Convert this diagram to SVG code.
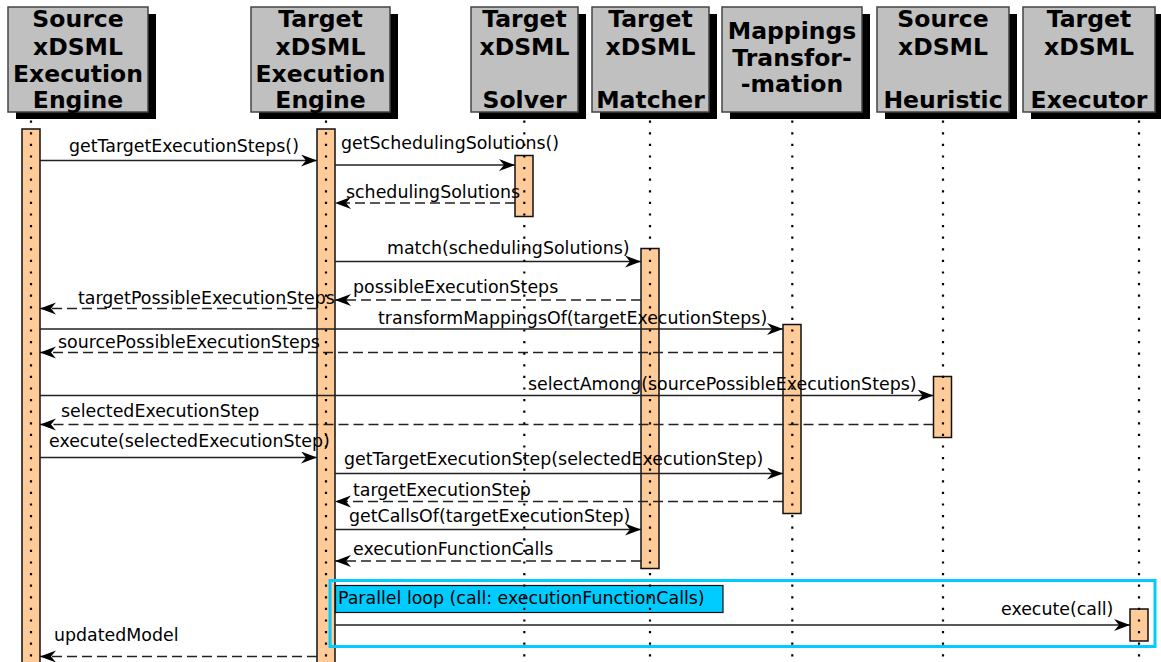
<svg xmlns="http://www.w3.org/2000/svg" width="1161" height="662" viewBox="0 0 1161 662">
<defs>
<style>
.hdr{fill:#c0c0c0;stroke:#444;stroke-width:1.5}
.shd{fill:#000}
.ht{font-family:"DejaVu Sans","Liberation Sans",sans-serif;font-weight:bold;font-size:23.5px;text-anchor:middle;fill:#000}
.act{fill:#ffcc99;stroke:#111;stroke-width:1.5}
.msg{stroke:#222;stroke-width:1.6;fill:none}
.ret{stroke:#222;stroke-width:1.6;fill:none;stroke-dasharray:10,5}
.lbl{font-family:"DejaVu Sans","Liberation Sans",sans-serif;font-size:17.4px;fill:#000}
.life{stroke:#000;stroke-width:2.2;stroke-dasharray:2.2,9.4}
</style>
<marker id="ah" markerUnits="userSpaceOnUse" markerWidth="17" markerHeight="13" refX="16" refY="6" orient="auto">
<path d="M0,0 L16,6 L0,12 L5,6 Z" fill="#000"/>
</marker>
</defs>
<rect width="1161" height="662" fill="#fff"/>

<g id="srcEngine">
<rect class="shd" x="16" y="14" width="140" height="105"/>
<rect class="hdr" x="8" y="7" width="140" height="105"/>
<text class="ht" x="78" y="27">Source</text>
<text class="ht" x="78" y="54.5">xDSML</text>
<text class="ht" x="78" y="81.5">Execution</text>
<text class="ht" x="78" y="108">Engine</text>
</g>
<g id="tgtEngine">
<rect class="shd" x="259" y="14" width="139" height="105"/>
<rect class="hdr" x="251" y="7" width="139" height="105"/>
<text class="ht" x="320.5" y="27">Target</text>
<text class="ht" x="320.5" y="54.5">xDSML</text>
<text class="ht" x="320.5" y="81.5">Execution</text>
<text class="ht" x="320.5" y="108">Engine</text>
</g>
<g id="solver">
<rect class="shd" x="479" y="14" width="107" height="105"/>
<rect class="hdr" x="471" y="7" width="107" height="105"/>
<text class="ht" x="524.5" y="27">Target</text>
<text class="ht" x="524.5" y="54.5">xDSML</text>
<text class="ht" x="524.5" y="108">Solver</text>
</g>
<g id="matcher">
<rect class="shd" x="600" y="14" width="117" height="105"/>
<rect class="hdr" x="592" y="7" width="117" height="105"/>
<text class="ht" x="650.5" y="27">Target</text>
<text class="ht" x="650.5" y="54.5">xDSML</text>
<text class="ht" x="650.5" y="108">Matcher</text>
</g>
<g id="mappings">
<rect class="shd" x="730" y="14" width="140" height="105"/>
<rect class="hdr" x="722" y="7" width="140" height="105"/>
<text class="ht" x="792" y="39">Mappings</text>
<text class="ht" x="792" y="65.5">Transfor-</text>
<text class="ht" x="792" y="92">-mation</text>
</g>
<g id="heuristic">
<rect class="shd" x="885" y="14" width="132" height="105"/>
<rect class="hdr" x="877" y="7" width="132" height="105"/>
<text class="ht" x="943" y="27">Source</text>
<text class="ht" x="943" y="54.5">xDSML</text>
<text class="ht" x="943" y="108">Heuristic</text>
</g>
<g id="executor">
<rect class="shd" x="1031" y="14" width="132" height="105"/>
<rect class="hdr" x="1023" y="7" width="132" height="105"/>
<text class="ht" x="1089" y="27">Target</text>
<text class="ht" x="1089" y="54.5">xDSML</text>
<text class="ht" x="1089" y="108">Executor</text>
</g>

<g id="activations">
<rect class="act" x="22" y="129" width="18" height="545"/>
<rect class="act" x="317" y="129" width="18" height="545"/>
<rect class="act" x="515" y="155.5" width="18" height="61"/>
<rect class="act" x="641" y="248.5" width="18" height="320"/>
<rect class="act" x="783" y="324.5" width="18" height="189"/>
<rect class="act" x="933.5" y="376.5" width="18" height="61"/>
<rect class="act" x="1130" y="609" width="18" height="32"/>
</g>

<g id="connectors">
<line class="msg" x1="40" y1="160.5" x2="317" y2="160.5" marker-end="url(#ah)"/>
<text class="lbl" x="69" y="152">getTargetExecutionSteps()</text>
<line class="msg" x1="335" y1="165" x2="515" y2="165" marker-end="url(#ah)"/>
<text class="lbl" x="341" y="149">getSchedulingSolutions()</text>
<line class="ret" x1="515" y1="203" x2="335" y2="203" marker-end="url(#ah)"/>
<text class="lbl" x="346" y="198">schedulingSolutions</text>
<line class="msg" x1="335" y1="261.5" x2="641" y2="261.5" marker-end="url(#ah)"/>
<text class="lbl" x="387" y="254">match(schedulingSolutions)</text>
<line class="ret" x1="641" y1="300" x2="335" y2="300" marker-end="url(#ah)"/>
<text class="lbl" x="353" y="293">possibleExecutionSteps</text>
<line class="ret" x1="317" y1="308.5" x2="40" y2="308.5" marker-end="url(#ah)"/>
<text class="lbl" x="78" y="304">targetPossibleExecutionSteps</text>
<line class="msg" x1="40" y1="329" x2="783" y2="329" marker-end="url(#ah)"/>
<text class="lbl" x="378" y="324">transformMappingsOf(targetExecutionSteps)</text>
<line class="ret" x1="783" y1="352.5" x2="40" y2="352.5" marker-end="url(#ah)"/>
<text class="lbl" x="58" y="348">sourcePossibleExecutionSteps</text>
<line class="msg" x1="40" y1="395.5" x2="933.5" y2="395.5" marker-end="url(#ah)"/>
<text class="lbl" x="528" y="390">selectAmong(sourcePossibleExecutionSteps)</text>
<line class="ret" x1="933.5" y1="424.5" x2="40" y2="424.5" marker-end="url(#ah)"/>
<text class="lbl" x="61" y="417">selectedExecutionStep</text>
<line class="msg" x1="40" y1="457.5" x2="317" y2="457.5" marker-end="url(#ah)"/>
<text class="lbl" x="49" y="447">execute(selectedExecutionStep)</text>
<line class="msg" x1="335" y1="473.5" x2="783" y2="473.5" marker-end="url(#ah)"/>
<text class="lbl" x="344" y="465">getTargetExecutionStep(selectedExecutionStep)</text>
<line class="ret" x1="783" y1="501.5" x2="335" y2="501.5" marker-end="url(#ah)"/>
<text class="lbl" x="353" y="496">targetExecutionStep</text>
<line class="msg" x1="335" y1="529.5" x2="641" y2="529.5" marker-end="url(#ah)"/>
<text class="lbl" x="349" y="522">getCallsOf(targetExecutionStep)</text>
<line class="ret" x1="641" y1="561" x2="335" y2="561" marker-end="url(#ah)"/>
<text class="lbl" x="353" y="555">executionFunctionCalls</text>
<line class="msg" x1="335" y1="625" x2="1130" y2="625" marker-end="url(#ah)"/>
<text class="lbl" x="1001" y="615">execute(call)</text>
<line class="ret" x1="317" y1="656.5" x2="40" y2="656.5" marker-end="url(#ah)"/>
<text class="lbl" x="54" y="641">updatedModel</text>
</g>

<g id="loop">
<rect x="330" y="580.5" width="825" height="66" fill="none" stroke="#00ccff" stroke-width="3"/>
<rect x="335.5" y="585.5" width="387.5" height="27" fill="#00ccff" stroke="#111" stroke-width="1.2"/>
<text class="lbl" x="338" y="604">Parallel loop (call: executionFunctionCalls)</text>
</g>

<g id="lifelines">
<line class="life" x1="31" y1="120.6" x2="31" y2="662"/>
<line class="life" x1="326" y1="120.6" x2="326" y2="662"/>
<line class="life" x1="524.3" y1="120.6" x2="524.3" y2="662"/>
<line class="life" x1="650" y1="120.6" x2="650" y2="662"/>
<line class="life" x1="792.3" y1="120.6" x2="792.3" y2="662"/>
<line class="life" x1="943" y1="120.6" x2="943" y2="662"/>
<line class="life" x1="1139" y1="120.6" x2="1139" y2="662"/>
</g>
</svg>
